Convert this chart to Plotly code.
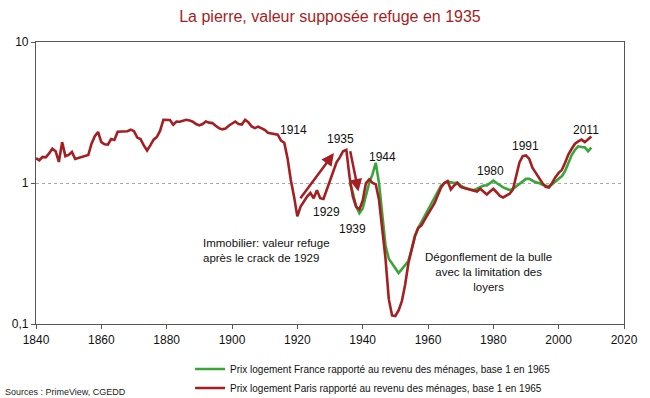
import math
import plotly.graph_objects as go

# ---- data ----
paris_years = list(range(1840, 2011))
paris_values = [
    1.50, 1.45, 1.53, 1.52, 1.62, 1.75, 1.68, 1.41, 1.95, 1.55,   # 1840-1849
    1.58, 1.66, 1.48, 1.50, 1.53, 1.55, 1.58, 1.90, 2.15, 2.30,   # 1850-1859
    1.95, 1.88, 1.87, 2.05, 2.02, 2.31, 2.31, 2.31, 2.33, 2.39,   # 1860-1869
    2.33, 2.10, 2.05, 1.85, 1.70, 1.85, 2.03, 2.12, 2.35, 2.81,   # 1870-1879
    2.79, 2.80, 2.59, 2.73, 2.72, 2.76, 2.81, 2.78, 2.72, 2.62,   # 1880-1889
    2.56, 2.62, 2.73, 2.68, 2.66, 2.55, 2.45, 2.40, 2.43, 2.55,   # 1890-1899
    2.65, 2.73, 2.62, 2.60, 2.81, 2.70, 2.52, 2.45, 2.51, 2.43,   # 1900-1909
    2.38, 2.27, 2.25, 2.24, 2.20, 2.00, 1.93, 1.50, 1.05, 0.80,   # 1910-1919
    0.58, 0.68, 0.74, 0.80, 0.85, 0.78, 0.89, 0.78, 0.77, 0.90,   # 1920-1929
    1.05, 1.24, 1.40, 1.52, 1.68, 1.72, 1.10, 0.80, 0.68, 0.65,   # 1930-1939
    0.75, 1.00, 1.06, 1.00, 0.98, 0.76, 0.47, 0.29, 0.15, 0.115,  # 1940-1949
    0.114, 0.125, 0.145, 0.19, 0.27, 0.34, 0.42, 0.48, 0.50, 0.55,  # 1950-1959
    0.60, 0.65, 0.72, 0.82, 0.93, 1.00, 1.03, 0.90, 0.96, 1.00,   # 1960-1969
    0.94, 0.92, 0.91, 0.90, 0.89, 0.87, 0.91, 0.87, 0.83, 0.87,   # 1970-1979
    0.91, 0.86, 0.81, 0.79, 0.81, 0.84, 0.90, 1.10, 1.40, 1.55,   # 1980-1989
    1.57, 1.48, 1.28, 1.18, 1.08, 1.00, 0.94, 0.93, 1.00, 1.10,   # 1990-1999
    1.18, 1.24, 1.40, 1.60, 1.75, 1.90, 1.97, 2.03, 1.95, 2.05,   # 2000-2009
    2.14,                                                         # 2010
]

france_years = list(range(1936, 2011))
france_values = [
    1.01, 0.85, 0.68, 0.61,                                       # 1936-1939
    0.66, 0.82, 1.00, 1.15, 1.39, 1.00, 0.62, 0.36, 0.29, 0.27,   # 1940-1949
    0.25, 0.23, 0.245, 0.26, 0.28, 0.34, 0.42, 0.48, 0.53, 0.58,  # 1950-1959
    0.64, 0.71, 0.78, 0.88, 0.96, 1.00, 1.03, 1.01, 1.00, 1.01,   # 1960-1969
    0.96, 0.93, 0.91, 0.90, 0.89, 0.91, 0.94, 0.96, 0.96, 1.00,   # 1970-1979
    1.04, 1.00, 0.96, 0.93, 0.91, 0.89, 0.91, 0.95, 0.99, 1.03,   # 1980-1989
    1.07, 1.07, 1.04, 1.01, 1.00, 0.97, 0.96, 0.94, 0.98, 1.02,   # 1990-1999
    1.07, 1.12, 1.22, 1.40, 1.58, 1.72, 1.82, 1.80, 1.79, 1.68,   # 2000-2009
    1.78,                                                         # 2010
]

x_ticks = [1840, 1860, 1880, 1900, 1920, 1940, 1960, 1980, 2000, 2020]
y_tickvals = [0.1, 1, 10]
y_ticktext = ["0,1", "1", "10"]

year_labels = ["1914", "1935", "1944", "1929", "1939", "1980", "1991", "2011"]

RED = "#A51E22"
GREEN = "#3AA63A"
FONT = "Liberation Sans, Arial, sans-serif"

fig = go.Figure()
fig.add_trace(go.Scatter(
    x=france_years, y=france_values, mode="lines",
    line=dict(color=GREEN, width=2.6),
    name="Prix logement France rapporté au revenu des ménages, base 1 en 1965",
))
fig.add_trace(go.Scatter(
    x=paris_years, y=paris_values, mode="lines",
    line=dict(color=RED, width=2.6),
    name="Prix logement Paris rapporté au revenu des ménages, base 1 en 1965",
))

# label placements (year, value)
label_pos = [(1918.7, 2.36), (1933.3, 2.05), (1946.1, 1.54), (1928.8, 0.62),
             (1936.9, 0.47), (1979.1, 1.21), (1989.7, 1.84), (2008.5, 2.39)]
annotations = []
for txt, (xx, yy) in zip(year_labels, label_pos):
    annotations.append(dict(x=xx, y=math.log10(yy), xref="x", yref="y", text=txt,
                            showarrow=False, font=dict(size=12, color="#111", family=FONT)))

# arrows
for (x0, y0, x1, y1) in [(1920.6, 0.76, 1931.2, 1.63), (1936.1, 1.72, 1938.7, 0.87)]:
    annotations.append(dict(x=x1, y=math.log10(y1), ax=x0, ay=math.log10(y0),
                            xref="x", yref="y", axref="x", ayref="y", text="",
                            showarrow=True, arrowhead=2, arrowsize=1.0, arrowwidth=2.5,
                            arrowcolor=RED))

annotations.append(dict(x=1910.6, y=-0.48, xref="x", yref="y",
                        text="Immobilier: valeur refuge<br>après le crack de 1929",
                        showarrow=False, align="left",
                        font=dict(size=11.5, color="#111", family=FONT)))
annotations.append(dict(x=1978.6, y=-0.63, xref="x", yref="y",
                        text="Dégonflement de la bulle<br>avec la limitation des<br>loyers",
                        showarrow=False, align="center",
                        font=dict(size=11.5, color="#111", family=FONT)))
annotations.append(dict(x=-0.056, y=-0.24, xref="paper", yref="paper",
                        xanchor="left", yanchor="middle",
                        text="Sources : PrimeView, CGEDD", showarrow=False,
                        font=dict(size=9, color="#222", family=FONT)))

fig.update_layout(
    width=650, height=398,
    margin=dict(l=36, r=26, t=42, b=74, autoexpand=False),
    paper_bgcolor="white", plot_bgcolor="white",
    font=dict(family=FONT, size=12, color="#111"),
    title=dict(text="La pierre, valeur supposée refuge en 1935", x=0.5, xref="paper",
               y=0.972, yref="container", xanchor="center",
               font=dict(size=16, color="#A51E22", family=FONT)),
    showlegend=True,
    legend=dict(x=0.262, y=-0.193, xanchor="left", yanchor="middle",
                traceorder="normal",
                font=dict(size=10, color="#111", family=FONT),
                bgcolor="rgba(0,0,0,0)"),
    annotations=annotations,
)
fig.update_xaxes(range=[1840, 2020], tickvals=x_ticks, ticks="outside", ticklen=4,
                 tickcolor="#555", showline=True, linecolor="#555", linewidth=1.2,
                 mirror=True, showgrid=False, zeroline=False,
                 tickfont=dict(size=12, color="#111"))
fig.update_yaxes(type="log", range=[-1, 1], tickvals=y_tickvals, ticktext=y_ticktext,
                 ticks="outside", ticklen=4, tickcolor="#555",
                 showline=True, linecolor="#555", linewidth=1.2, mirror=True,
                 showgrid=True, gridcolor="#aaa", griddash="dot", gridwidth=1,
                 zeroline=False, tickfont=dict(size=12, color="#111"))

fig.write_html("out.html", config={"displayModeBar": False},
               post_script="document.body.style.margin='0';")
